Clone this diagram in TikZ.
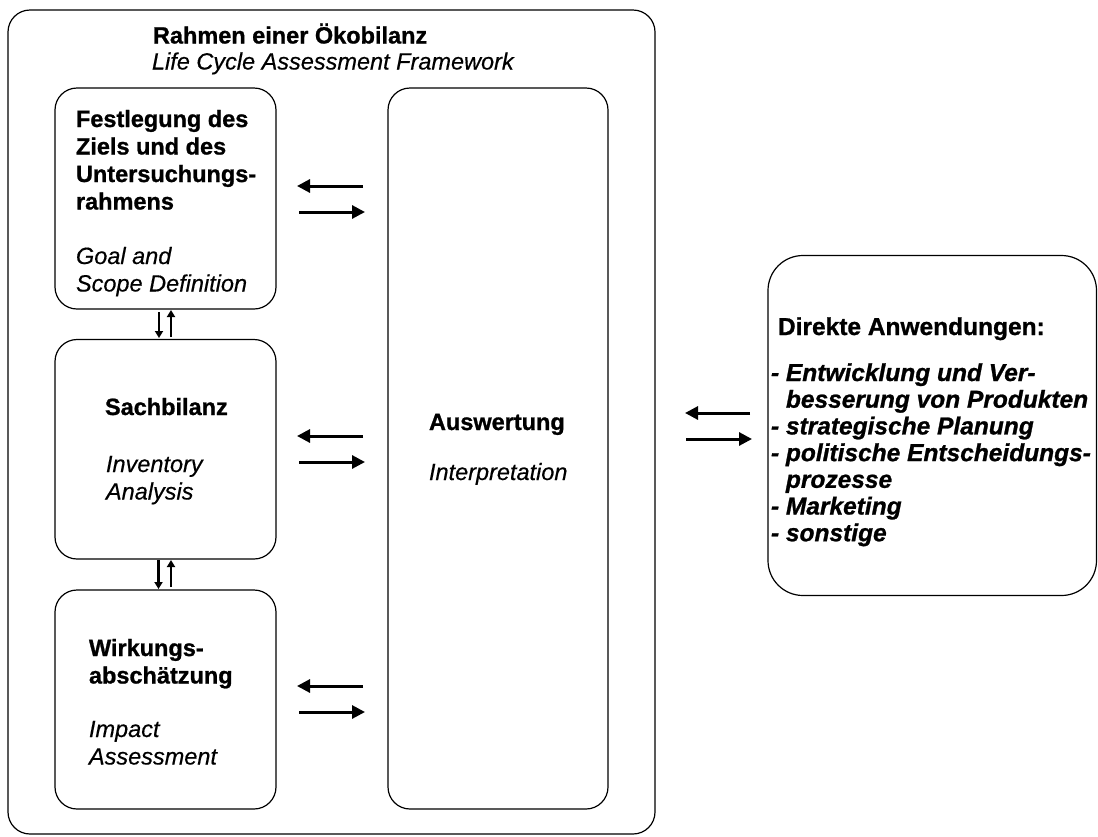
\documentclass[tikz,border=0pt]{standalone}
\usepackage{fontspec}
\setmainfont{Liberation Sans}[BoldFeatures={FakeBold=1},BoldItalicFeatures={FakeBold=1},ItalicFeatures={FakeBold=0.4}]
\usetikzlibrary{arrows.meta}
\begin{document}
\begin{tikzpicture}[x=1pt,y=-1pt,
  box/.style={draw, line width=1.2pt, rounded corners=22pt, anchor=north west, inner sep=0pt, outer sep=0pt},
  lbl/.style={anchor=base west, inner sep=0pt, outer sep=0pt, font=\fontsize{23.5}{27.5}\selectfont},
  applbl/.style={lbl, font=\fontsize{24.5}{26.7}\selectfont},
  bigarr/.style={line width=3pt, -{Triangle[length=13pt,width=13pt]}},
  smallarr/.style={line width=2.4pt, -{Triangle[length=7pt,width=8pt]}}]
\useasboundingbox (0,0) rectangle (1098,836);
% boxes
\node[box, minimum width=647pt, minimum height=824pt] (outer) at (8,10) {};
\node[box, minimum width=221pt, minimum height=221pt] (goal) at (55,88) {};
\node[box, minimum width=221pt, minimum height=219.5pt] (sach) at (55,339.5) {};
\node[box, minimum width=221pt, minimum height=219pt] (wirk) at (55,590) {};
\node[box, minimum width=220pt, minimum height=721pt] (ausw) at (388,88) {};
\node[box, rounded corners=35pt, minimum width=328.5pt, minimum height=340pt] (apps) at (768,255.5) {};
% texts
\node[lbl] (t1) at (153,43.5) {\bfseries Rahmen einer Ökobilanz};
\node[lbl] (t2) at (152,69.5) {\itshape Life Cycle Assessment Framework};
\node[lbl] (goalB) at (76,127) {\bfseries\begin{tabular}[t]{@{}l@{}}Festlegung des\\Ziels und des\\Untersuchungs-\\rahmens\end{tabular}};
\node[lbl] (goalI) at (76,264) {\itshape\begin{tabular}[t]{@{}l@{}}Goal and\\Scope Definition\end{tabular}};
\node[lbl] (sachB) at (105,415) {\bfseries Sachbilanz};
\node[lbl] (sachI) at (106,472) {\itshape\begin{tabular}[t]{@{}l@{}}Inventory\\Analysis\end{tabular}};
\node[lbl] (wirkB) at (89,656) {\bfseries\begin{tabular}[t]{@{}l@{}}Wirkungs-\\abschätzung\end{tabular}};
\node[lbl] (wirkI) at (89,737) {\itshape\begin{tabular}[t]{@{}l@{}}Impact\\Assessment\end{tabular}};
\node[lbl] (auswB) at (429,430) {\bfseries Auswertung};
\node[lbl] (auswI) at (429,480) {\itshape Interpretation};
\node[applbl] (appsH) at (778,335) {\bfseries Direkte Anwendungen:};
\node[applbl] (appsL) at (771,381) {\bfseries\itshape\begin{tabular}[t]{@{}l@{}}- Entwicklung und Ver-\\\phantom{- }besserung von Produkten\\- strategische Planung\\- politische Entscheidungs-\\\phantom{- }prozesse\\- Marketing\\- sonstige\end{tabular}};
% helper coordinates
\coordinate (h1) at (0,186);
\coordinate (h2) at (0,212);
\coordinate (h3) at (0,436);
\coordinate (h4) at (0,462);
\coordinate (h5) at (0,686);
\coordinate (h6) at (0,712);
\coordinate (h7) at (0,413);
\coordinate (h8) at (0,439);
\coordinate (v1) at (159,0);
\coordinate (v2) at (171,0);
\coordinate (v3) at (158.5,0);
\coordinate (v4) at (171,0);
% horizontal arrows
\draw[bigarr, shorten <=25pt, shorten >=21pt] (ausw.west |- h1) -- (goal.east |- h1);
\draw[bigarr, shorten <=23pt, shorten >=23pt] (goal.east |- h2) -- (ausw.west |- h2);
\draw[bigarr, shorten <=25pt, shorten >=21pt] (ausw.west |- h3) -- (sach.east |- h3);
\draw[bigarr, shorten <=23pt, shorten >=23pt] (sach.east |- h4) -- (ausw.west |- h4);
\draw[bigarr, shorten <=25pt, shorten >=21pt] (ausw.west |- h5) -- (wirk.east |- h5);
\draw[bigarr, shorten <=23pt, shorten >=23pt] (wirk.east |- h6) -- (ausw.west |- h6);
\draw[bigarr, shorten <=18pt, shorten >=30pt] (apps.west |- h7) -- (outer.east |- h7);
\draw[bigarr, shorten <=31pt, shorten >=16pt] (outer.east |- h8) -- (apps.west |- h8);
% vertical arrows
\draw[smallarr, shorten <=3pt, shorten >=1.5pt] (goal.south -| v1) -- (sach.north -| v1);
\draw[smallarr, shorten <=2.5pt, shorten >=1pt] (sach.north -| v2) -- (goal.south -| v2);
\draw[smallarr, shorten <=1pt, shorten >=1pt] (sach.south -| v3) -- (wirk.north -| v3);
\draw[smallarr, shorten <=3pt, shorten >=1pt] (wirk.north -| v4) -- (sach.south -| v4);
\end{tikzpicture}
\end{document}
